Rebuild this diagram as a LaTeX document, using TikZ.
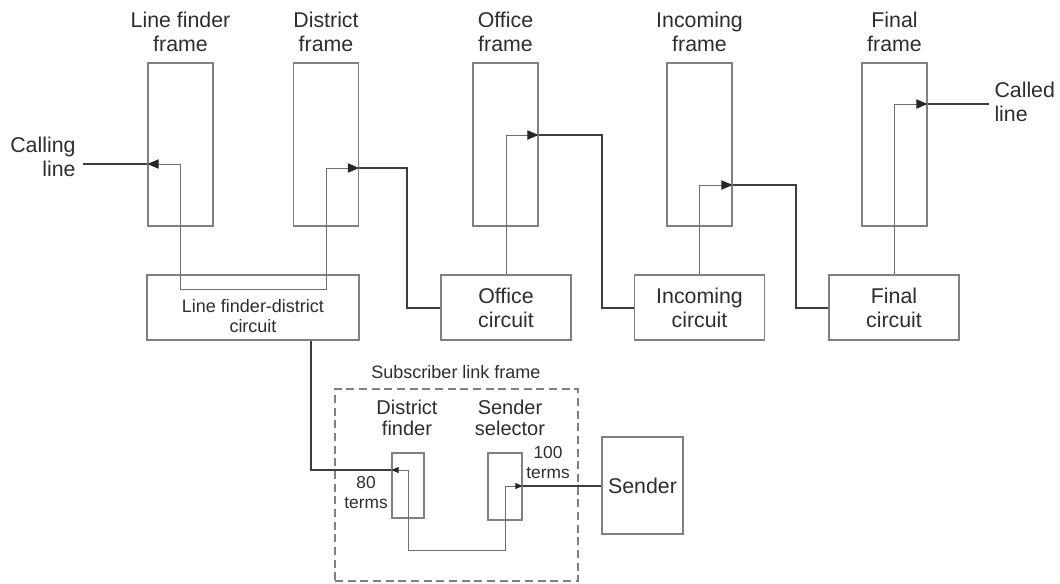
\documentclass[tikz,border=0pt]{standalone}
\usepackage{fontspec}
\setmainfont{Liberation Sans}
\usetikzlibrary{arrows.meta}

\definecolor{boxgray}{RGB}{128,128,128}
\definecolor{wiregray}{RGB}{110,110,110}
\definecolor{trunkgray}{RGB}{60,60,60}
\definecolor{txtgray}{RGB}{45,45,45}

\newcommand{\bigtxt}{\fontsize{16}{18}\selectfont}
\newcommand{\midtxt}{\fontsize{15}{15.75}\selectfont}
\newcommand{\smalltxt}{\fontsize{13.5}{15}\selectfont}
\newcommand{\tinytxt}{\fontsize{13}{15}\selectfont}

\tikzset{every picture/.style={line width=0.75pt}}
\tikzset{
  frame/.style={draw=boxgray, line width=0.9pt, inner sep=0pt, minimum width=48.75pt, minimum height=122.25pt},
  circbox/.style={draw=boxgray, line width=0.9pt, inner sep=0pt, minimum height=48.75pt, align=center, text=txtgray, font=\bigtxt},
  lbl/.style={inner sep=0pt, align=center, text=txtgray},
  wire/.style={draw=wiregray, line width=0.75pt},
  trunk/.style={draw=trunkgray, line width=1.5pt},
  bigtip/.tip={Triangle[length=8.5pt,width=7pt,color=black!85]},
  smalltip/.tip={Triangle[length=5.5pt,width=4.5pt,color=black!85]},
}

\begin{document}
\begin{tikzpicture}[x=0.75pt,y=0.75pt,yscale=-1,xscale=1]
\useasboundingbox (0,0) rectangle (1060,583);

%Rows of the connectors
\coordinate (callrow) at (83,164);
\coordinate (lfdrow) at (0,289);
\coordinate (drow) at (0,168);
\coordinate (orow) at (0,135);
\coordinate (irow) at (0,185);
\coordinate (frow) at (989,104);
\coordinate (findrow) at (311,470);
\coordinate (looprow) at (0,550);
\coordinate (sendrow) at (0,486);

%Shape: Frames
\node[frame] (lfframe) at (180.5,144.5) {};
\node[frame] (dframe) at (326,144.5) {};
\node[frame] (oframe) at (505.5,144.5) {};
\node[frame] (iframe) at (699.5,144.5) {};
\node[frame] (fframe) at (894.5,144.5) {};

% Text Node
\node[lbl, font=\bigtxt] (lflbl) at (180.5,32) {Line finder\\frame};
\node[lbl, font=\bigtxt] (dlbl) at (326,32) {District\\frame};
\node[lbl, font=\bigtxt] (olbl) at (505.5,32) {Office\\frame};
\node[lbl, font=\bigtxt] (ilbl) at (699.5,32) {Incoming\\frame};
\node[lbl, font=\bigtxt] (flbl) at (894.5,32) {Final\\frame};
\node[lbl, font=\bigtxt, align=right, anchor=east] (calling) at (76,157) {Calling\\line};
\node[lbl, font=\bigtxt, align=left, anchor=west] (called) at (994,102) {Called\\line};

%Shape: Circuits
\node[circbox, minimum width=159pt] (lfdcirc) at (253,307.5) {};
\node[lbl, font=\smalltxt] (lfdtxt) at (253,316) {Line finder-district\\circuit};
\node[circbox, minimum width=97.5pt] (ocirc) at (506,307.5) {Office\\circuit};
\node[circbox, minimum width=97.5pt] (icirc) at (699.5,307.5) {Incoming\\circuit};
\node[circbox, minimum width=97.5pt] (fcirc) at (894,307.5) {Final\\circuit};

%Shape: Subscriber link frame
\node[draw=boxgray, line width=0.9pt, dash pattern=on 6pt off 3.5pt, inner sep=0pt, minimum width=182.25pt, minimum height=144pt] (slframe) at (456.5,485) {};
\node[lbl, font=\smalltxt] (sllbl) at (456,372) {Subscriber link frame};
\node[draw=boxgray, line width=0.9pt, inner sep=0pt, minimum width=24pt, minimum height=48.75pt] (dfinder) at (408,485.5) {};
\node[draw=boxgray, line width=0.9pt, inner sep=0pt, minimum width=25.5pt, minimum height=50.25pt] (ssel) at (505,486.5) {};
\node[draw=boxgray, line width=0.9pt, inner sep=0pt, minimum width=60.75pt, minimum height=72.75pt, text=txtgray, font=\bigtxt] (sender) at (642.5,485.5) {Sender};
\node[lbl, font=\midtxt] (dflbl) at (407,417.5) {District\\finder};
\node[lbl, font=\midtxt] (sslbl) at (510,417.5) {Sender\\selector};
\node[lbl, font=\tinytxt] (hundred) at (548,463) {100\\terms};
\node[lbl, font=\tinytxt] (eighty) at (366,492.5) {80\\terms};

%Straight Lines: trunks
\draw[trunk] (callrow) -- (lfframe.west |- callrow);
\draw[trunk] (dframe.east |- drow) -| ([xshift=-24.75pt]ocirc.west) -- (ocirc.west);
\draw[trunk] (oframe.east |- orow) -| ([xshift=-24pt]icirc.west) -- (icirc.west);
\draw[trunk] (iframe.east |- irow) -| ([xshift=-24pt]fcirc.west) -- (fcirc.west);
\draw[trunk] (fframe.east |- frow) -- (frow);
\draw[trunk] (lfdcirc.south -| findrow) |- (dfinder.west |- findrow);
\draw[trunk] (ssel.east |- sendrow) -- (sender.west |- sendrow);

%Straight Lines: links inside the frames
\draw[wire, {bigtip}-{bigtip}] (lfframe.west |- callrow) -| (lfframe.center |- lfdrow) -| (dframe.center |- drow) -- (dframe.east |- drow);
\draw[wire, -{bigtip}] (ocirc.north) |- (oframe.east |- orow);
\draw[wire, -{bigtip}] (icirc.north) |- (iframe.east |- irow);
\draw[wire, -{bigtip}] (fcirc.north) |- (fframe.east |- frow);
\draw[wire, {smalltip}-{smalltip}] (dfinder.west |- findrow) -| (dfinder.center |- looprow) -| (ssel.center |- sendrow) -- (ssel.east |- sendrow);

\end{tikzpicture}
\end{document}
